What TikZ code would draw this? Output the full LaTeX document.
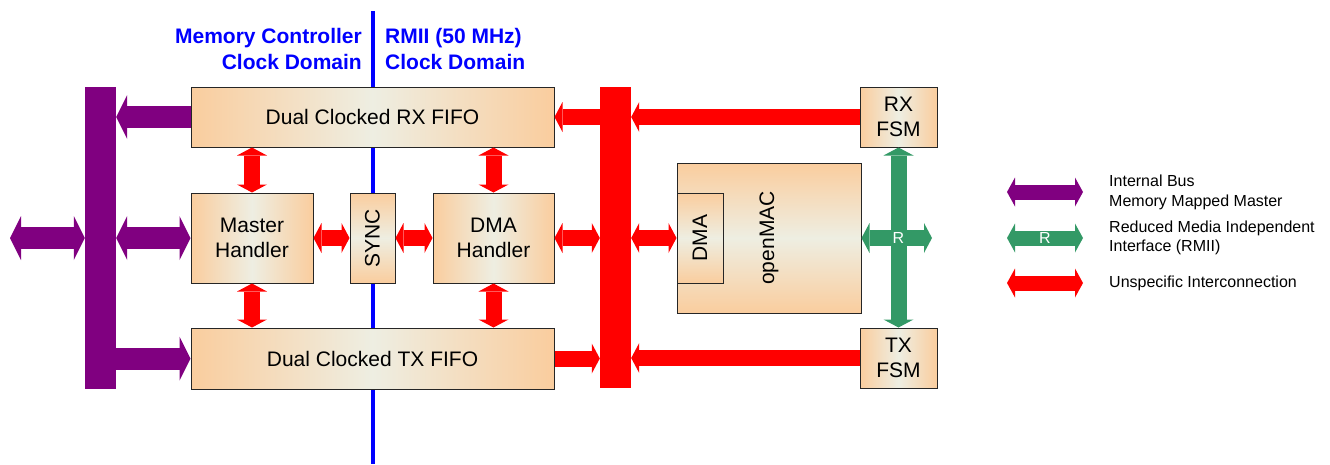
\documentclass[tikz,border=0pt]{standalone}
\usepackage{fontspec}
\setmainfont{Liberation Sans}
\usetikzlibrary{arrows.meta}
\definecolor{peach}{RGB}{250,205,158}
\definecolor{cream}{RGB}{238,238,226}
\definecolor{busviolet}{RGB}{128,0,128}
\definecolor{rmiigreen}{RGB}{51,153,102}
\definecolor{domblue}{RGB}{0,0,255}
\tikzset{
  ptip/.tip={Triangle[width=44pt,length=11pt,line width=0pt]},
  rtip/.tip={Triangle[width=30pt,length=8pt,line width=0pt]},
  ltip/.tip={Triangle[width=29pt,length=8pt,line width=0pt]},
  hbox/.style={draw=black!85, line width=1pt, left color=peach, right color=peach, middle color=cream,
    inner sep=0pt, font=\fontsize{21}{25}\selectfont, align=center},
  vbox/.style={draw=black!85, line width=1pt, top color=peach, bottom color=peach, middle color=cream,
    inner sep=0pt, font=\fontsize{21}{25}\selectfont, align=center},
  busbar/.style={inner sep=0pt, draw=none},
  parrow/.style={draw=busviolet, line width=22pt},
  rarrow/.style={draw=red, line width=16pt},
  garrow/.style={draw=rmiigreen, line width=16pt},
  lparrow/.style={draw=busviolet, line width=15pt, ltip-ltip},
  lgarrow/.style={draw=rmiigreen, line width=15pt, ltip-ltip},
  lrarrow/.style={draw=red, line width=15pt, ltip-ltip},
  domtitle/.style={text=domblue, font=\fontsize{21}{26}\selectfont\bfseries, inner sep=0pt},
  legtext/.style={font=\fontsize{16}{19.5}\selectfont, align=left, anchor=west, inner sep=0pt},
  rlabel/.style={text=white, font=\fontsize{16}{18}\selectfont, inner sep=0pt}
}
\begin{document}
\begin{tikzpicture}[x=1pt,y=-1pt]
\useasboundingbox (0,0) rectangle (1330,464);

% clock domain divider
\coordinate (dtop) at (373,11);
\coordinate (dbot) at (373,464);
\draw[domblue, line width=4.5pt] (dtop) -- (dbot);

\node[domtitle, anchor=east, align=right] (tleft) at (362,49) {Memory Controller\\Clock Domain};
\node[domtitle, anchor=west, align=left] (tright) at (385,49) {RMII (50 MHz)\\Clock Domain};

% buses
\node[busbar, fill=busviolet, minimum width=31pt, minimum height=302pt] (pbus) at (100.5,238) {};
\node[busbar, fill=red, minimum width=31pt, minimum height=301pt] (rbus) at (615.5,237.5) {};

% blocks
\node[hbox, minimum width=363pt, minimum height=60pt] (rxfifo) at (372.5,117) {Dual Clocked RX FIFO};
\node[hbox, minimum width=363pt, minimum height=61pt] (txfifo) at (372.5,358.5) {Dual Clocked TX FIFO};
\node[hbox, minimum width=122pt, minimum height=90pt] (master) at (252,238) {Master\\Handler};
\node[vbox, minimum width=45pt, minimum height=90pt] (sync) at (372.5,238) {\rotatebox{90}{SYNC}};
\node[hbox, minimum width=121pt, minimum height=90pt] (dmah) at (493.5,238) {DMA\\Handler};
\node[vbox, minimum width=184pt, minimum height=150pt] (openmac) at (769,238) {\rotatebox{90}{openMAC}};
\node[vbox, minimum width=46pt, minimum height=90pt] (dmain) at (700,238) {\rotatebox{90}{DMA}};
\node[hbox, minimum width=77pt, minimum height=60pt] (rxfsm) at (898.5,117) {RX\\FSM};
\node[hbox, minimum width=77pt, minimum height=60pt] (txfsm) at (898.5,358) {TX\\FSM};

% internal bus (purple)
\coordinate (ext) at (10,238);
\draw[parrow, ptip-ptip] (ext) -- (ext -| pbus.west);
\draw[parrow, ptip-ptip] (pbus.east |- master.west) -- (master.west);
\draw[parrow, -ptip] (rxfifo.west) -- (rxfifo.west -| pbus.east);
\draw[parrow, -ptip] (pbus.east |- txfifo.west) -- (txfifo.west);

% unspecific interconnections (red)
\draw[rarrow, rtip-rtip] (master.north |- rxfifo.south) -- (master.north);
\draw[rarrow, rtip-rtip] (dmah.north |- rxfifo.south) -- (dmah.north);
\draw[rarrow, rtip-rtip] (master.south) -- (master.south |- txfifo.north);
\draw[rarrow, rtip-rtip] (dmah.south) -- (dmah.south |- txfifo.north);
\draw[rarrow, rtip-rtip] (master.east) -- (sync.west);
\draw[rarrow, rtip-rtip] (sync.east) -- (dmah.west);
\draw[rarrow, rtip-rtip] (dmah.east) -- (dmah.east -| rbus.west);
\draw[rarrow, rtip-rtip] (rbus.east |- dmain.west) -- (dmain.west);
\draw[rarrow, -rtip] (rbus.west |- rxfifo.east) -- (rxfifo.east);
\draw[rarrow, -rtip] (rxfsm.west) -- (rxfsm.west -| rbus.east);
\draw[rarrow, -rtip] (txfifo.east) -- (txfifo.east -| rbus.west);
\draw[rarrow, -rtip] (txfsm.west) -- (txfsm.west -| rbus.east);

% RMII (green)
\coordinate (gright) at (932,238);
\draw[garrow, rtip-rtip] (rxfsm.south) -- (txfsm.north);
\draw[garrow, rtip-rtip] (openmac.east) -- (gright);
\node[rlabel] (rmiir) at (rxfsm.south |- openmac.east) {R};

% legend
\coordinate (la1) at (1007,192);
\coordinate (lb1) at (1083,192);
\coordinate (la2) at (1007,238);
\coordinate (lb2) at (1083,238);
\coordinate (la3) at (1007,283);
\coordinate (lb3) at (1083,283);
\draw[lparrow] (la1) -- (lb1);
\draw[lgarrow] (la2) -- (lb2);
\draw[lrarrow] (la3) -- (lb3);
\node[rlabel] (legr) at (1045,238) {R};
\node[legtext] (leg1) at (1109,192.5) {Internal Bus\\Memory Mapped Master};
\node[legtext] (leg2) at (1109,238) {Reduced Media Independent\\Interface (RMII)};
\node[legtext] (leg3) at (1109,283) {Unspecific Interconnection};
\end{tikzpicture}
\end{document}
